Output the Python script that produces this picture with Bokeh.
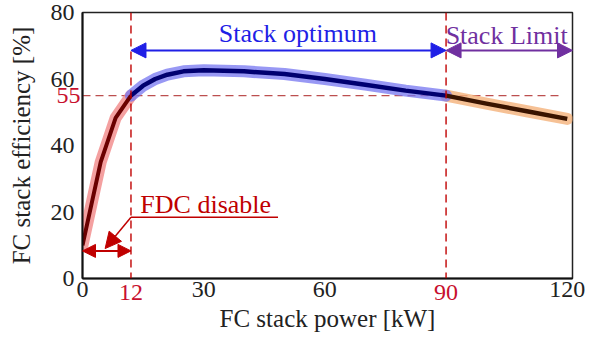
from bokeh.plotting import figure
from bokeh.models import Range1d, FixedTicker, Arrow, NormalHead, Span, Label, LinearAxis
from bokeh.embed import file_html
from bokeh.resources import INLINE

# ---- data ----
low_x = [0, 4.5, 8.2, 12]
low_y = [10, 35, 48.3, 55]
opt_x = [12, 15, 18, 21, 25, 30, 40, 50, 60, 70, 80, 90]
opt_y = [55, 58, 60, 61.3, 62.3, 62.6, 62.3, 61.5, 60, 58.3, 56.5, 55]
lim_x = [90, 100, 110, 120]
lim_y = [55, 52.6, 50.3, 48]

x_ticks = [0, 30, 60, 120]
y_ticks = [0, 20, 40, 60, 80]
red_x_ticks = [12, 90]
red_y_ticks = [55]
opt_range = [12, 90]
limit_range = [90, 121.3]
arrow_level = 68.6
fdc_level = 8.3
eff_ref = 55

SERIF = "Liberation Serif"
RED = "#c8102e"
DRED = "#c00000"
BLUE = "#1f1fe6"
PURPLE = "#7030a0"
TICK_FS = "24px"

p = figure(width=599, height=339, output_backend="svg", toolbar_location=None,
           x_range=Range1d(0, 121.3), y_range=Range1d(0, 80), y_axis_location=None,
           min_border_left=82, min_border_right=27, min_border_top=12, min_border_bottom=61)
p.grid.visible = False
p.outline_line_color = "#222222"
p.outline_line_width = 1.5

# y axes: red "55" axis next to the frame, black axis outside it pulled back by a negative standoff
ry = LinearAxis(ticker=FixedTicker(ticks=red_y_ticks))
by = LinearAxis(ticker=FixedTicker(ticks=y_ticks))
p.add_layout(ry, "left")
p.add_layout(by, "left")
# x axes: black axis next to the frame, red axis below it pulled back up
rx = LinearAxis(ticker=FixedTicker(ticks=red_x_ticks))
p.add_layout(rx, "below")
bx = p.xaxis[0]
bx.ticker = FixedTicker(ticks=x_ticks)

for ax in (bx, by, rx, ry):
    ax.major_tick_line_color = None
    ax.minor_tick_line_color = None
    ax.major_tick_out = 0
    ax.major_tick_in = 0
    ax.minor_tick_out = 0
    ax.minor_tick_in = 0
    ax.axis_line_color = "#111111"
    ax.axis_line_width = 2
    ax.major_label_text_font = SERIF
    ax.major_label_text_font_size = TICK_FS
    ax.major_label_text_color = "#222222"
    ax.axis_label_text_font = SERIF
    ax.axis_label_text_font_size = "25px"
    ax.axis_label_text_font_style = "normal"
    ax.axis_label_text_color = "#222222"
for ax in (rx, ry):
    ax.major_label_text_color = RED
rx.axis_line_color = None
by.axis_line_color = None
bx.major_label_standoff = 3
rx.major_label_standoff = -15
ry.major_label_standoff = 2
by.major_label_standoff = -21
rx.axis_label = "FC stack power [kW]"
by.axis_label = "FC stack efficiency [%]"
rx.axis_label_standoff = 2
by.axis_label_standoff = 13

# dashed reference lines
for loc in red_x_ticks:
    p.add_layout(Span(location=loc, dimension="height", line_color=DRED,
                      line_dash="8 5", line_width=1.4))
p.line([0, 118.5], [eff_ref, eff_ref], line_color="#b03030", line_dash="8 5", line_width=1.4, alpha=0.85)

# curves: halo + core
p.line(low_x, low_y, line_color="#f08080", line_width=12, line_alpha=0.75, line_cap="round", line_join="round")
p.line(lim_x, lim_y, line_color="#f4b27a", line_width=12, line_alpha=0.8, line_cap="round", line_join="round")
p.line(opt_x, opt_y, line_color="#7575f0", line_width=12, line_alpha=0.75, line_cap="round", line_join="round")
p.line(low_x, low_y, line_color="#6a0000", line_width=4, line_join="round")
p.line(opt_x, opt_y, line_color="#000070", line_width=4.5, line_join="round")
p.line(lim_x, lim_y, line_color="#3a1400", line_width=4.5, line_join="round")

# arrows
def head(c, s=15):
    return NormalHead(size=s, fill_color=c, line_color=c)

p.add_layout(Arrow(x_start=opt_range[0], y_start=arrow_level, x_end=opt_range[1], y_end=arrow_level,
                   start=head(BLUE), end=head(BLUE), line_color=BLUE, line_width=2))
p.add_layout(Arrow(x_start=limit_range[0], y_start=arrow_level, x_end=limit_range[1], y_end=arrow_level,
                   start=head(PURPLE), end=head(PURPLE), line_color=PURPLE, line_width=2))
p.add_layout(Arrow(x_start=0, y_start=fdc_level, x_end=12, y_end=fdc_level,
                   start=head(DRED, 13), end=head(DRED, 13), line_color=DRED, line_width=2))
p.line([48.4, 12], [18.4, 18.4], line_color=DRED, line_width=1.5)
p.add_layout(Arrow(x_start=12, y_start=18.4, x_end=5.6, y_end=9.0,
                   end=head(DRED, 16), line_color=DRED, line_width=1.5))

# texts
p.add_layout(Label(x=53.3, y=73.8, text="Stack optimum", text_font=SERIF, text_font_size="26px",
                   text_color=BLUE, text_align="center", text_baseline="middle"))
p.add_layout(Label(x=105, y=73.2, text="Stack Limit", text_font=SERIF, text_font_size="26px",
                   text_color=PURPLE, text_align="center", text_baseline="middle"))
p.add_layout(Label(x=30.5, y=22.3, text="FDC disable", text_font=SERIF, text_font_size="26px",
                   text_color=DRED, text_align="center", text_baseline="middle"))

open("out.html", "w").write(file_html(p, INLINE))
